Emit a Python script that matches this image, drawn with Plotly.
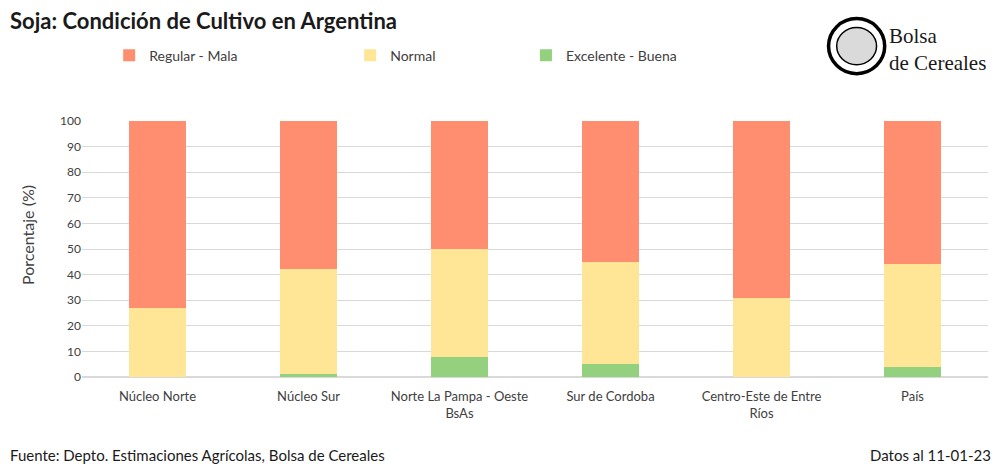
import plotly.graph_objects as go

# Datos
regiones = ['Núcleo Norte', 'Núcleo Sur', 'Norte La Pampa - Oeste<br>BsAs', 'Sur de Cordoba',
            'Centro-Este de Entre<br>Ríos', 'País']
excelente_buena = [0, 1, 8, 5, 0, 4]
normal = [27, 41, 42, 40, 31, 40]
regular_mala = [73, 58, 50, 55, 69, 56]

y_ticks = [0, 10, 20, 30, 40, 50, 60, 70, 80, 90, 100]

fuente = 'Lato'

fig = go.Figure()

fig.add_trace(go.Bar(x=regiones, y=excelente_buena, name='Excelente - Buena',
                     marker_color='#93D17F', marker_line_width=0, legend='legend3'))
fig.add_trace(go.Bar(x=regiones, y=normal, name='Normal',
                     marker_color='#FFE596', marker_line_width=0, legend='legend2'))
fig.add_trace(go.Bar(x=regiones, y=regular_mala, name='Regular - Mala',
                     marker_color='#FF8E71', marker_line_width=0, legend='legend'))

leyenda = dict(orientation='h', yanchor='middle', y=1.255, xanchor='left',
               font=dict(family=fuente, size=14, color='#404040'),
               bgcolor='rgba(0,0,0,0)', itemwidth=30)

fig.update_layout(
    barmode='stack',
    bargap=0.62,
    width=1000, height=471,
    showlegend=True,
    margin=dict(l=82, r=12, t=121, b=94),
    plot_bgcolor='white', paper_bgcolor='white',
    font=dict(family=fuente, color='#404040'),
    legend=dict(leyenda, x=0.03),
    legend2=dict(leyenda, x=0.296),
    legend3=dict(leyenda, x=0.49),
    xaxis=dict(tickfont=dict(size=13, color='#404040'), showline=False, ticks='',
               ticklabelstandoff=10),
    yaxis=dict(range=[0, 100], tickvals=y_ticks, tickfont=dict(size=12, color='#404040'),
               gridcolor='#D9D9D9', gridwidth=1, zeroline=True, zerolinecolor='#D9D9D9'),
    annotations=[
        dict(text='Porcentaje (%)', xref='paper', yref='paper', textangle=-90,
             x=-0.0596, y=0.555, xanchor='center', yanchor='middle', showarrow=False,
             font=dict(size=16, color='#404040')),
        dict(text='<b>Soja: Condición de Cultivo en Argentina</b>', xref='paper', yref='paper',
             x=-0.082, y=1.394, xanchor='left', yanchor='middle', showarrow=False,
             font=dict(size=22, color='#1A1A1A')),
        dict(text='Fuente: Depto. Estimaciones Agrícolas, Bolsa de Cereales', xref='paper', yref='paper',
             x=-0.082, y=-0.305, xanchor='left', yanchor='middle', showarrow=False,
             font=dict(size=15, color='#1A1A1A')),
        dict(text='Datos al 11-01-23', xref='paper', yref='paper',
             x=1.006, y=-0.305, xanchor='right', yanchor='middle', showarrow=False,
             font=dict(size=15, color='#1A1A1A')),
        dict(text='Bolsa', xref='paper', yref='paper', align='left',
             x=0.889, y=1.332, xanchor='left', yanchor='middle', showarrow=False,
             font=dict(family='Liberation Serif', size=21, color='#1A1A1A')),
        dict(text='de Cereales', xref='paper', yref='paper', align='left',
             x=0.889, y=1.226, xanchor='left', yanchor='middle', showarrow=False,
             font=dict(family='Liberation Serif', size=21, color='#1A1A1A')),
    ],
    shapes=[
        dict(type='circle', xref='paper', yref='paper', x0=0.824, x1=0.886, y0=1.185, y1=1.4,
             line=dict(color='black', width=3.5), fillcolor='white'),
        dict(type='circle', xref='paper', yref='paper', x0=0.833, x1=0.877, y0=1.22, y1=1.365,
             line=dict(color='black', width=1.5), fillcolor='#DADADA'),
    ],
)

fig.write_html('out.html', config={'displayModeBar': False},
               post_script="document.body.style.margin='0px';")
